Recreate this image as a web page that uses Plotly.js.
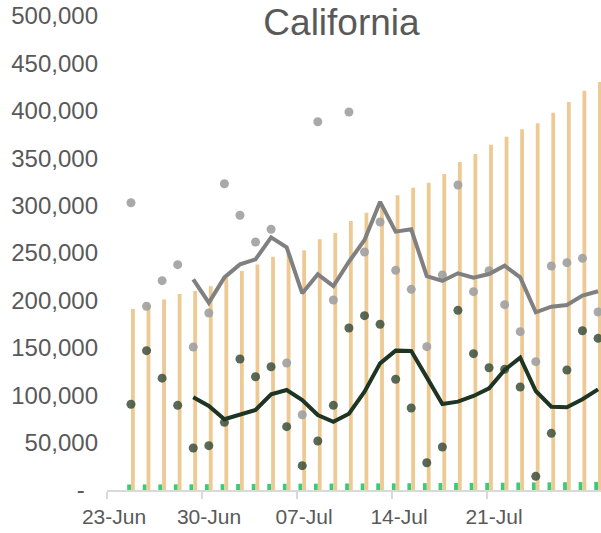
<!DOCTYPE html>
<html>
<head>
<meta charset="utf-8">
<script src="https://cdn.plot.ly/plotly-3.0.1.min.js"></script>
<style>html,body{margin:0;padding:0;background:#fff;}#chart{width:601px;height:533px;}</style>
</head>
<body>
<div id="chart"></div>
<script>
// Daily categories (data axis)
const days = ['2020-06-24','2020-06-25','2020-06-26','2020-06-27','2020-06-28','2020-06-29','2020-06-30',
  '2020-07-01','2020-07-02','2020-07-03','2020-07-04','2020-07-05','2020-07-06','2020-07-07',
  '2020-07-08','2020-07-09','2020-07-10','2020-07-11','2020-07-12','2020-07-13','2020-07-14',
  '2020-07-15','2020-07-16','2020-07-17','2020-07-18','2020-07-19','2020-07-20','2020-07-21',
  '2020-07-22','2020-07-23','2020-07-24'];

const greenBars = [5800,5900,5900,6000,6000,6100,6200,6300,6400,6500,6600,6700,6700,6800,6900,6900,
  7000,7000,7100,7200,7300,7400,7500,7600,7700,7900,8000,8100,8200,8400,8500];

const orangeBars = [190900,195000,201000,206700,210000,215000,223600,231000,238000,246000,249500,
  252800,264400,271000,283800,292500,300000,310800,318900,324200,333300,346000,354400,364300,
  372700,380500,386800,398000,409300,421200,430400];

const greyDots = [303000,193800,220800,237700,150800,186700,323000,289800,261600,275000,134000,
  79400,388500,200400,398700,251000,282700,231700,211700,151200,226800,321700,209200,231400,
  195500,167000,135400,236300,239800,244400,187800];

const darkDots = [90400,147000,118000,89300,44300,46800,71400,138200,119500,130000,66800,25700,
  51700,89300,170900,183900,174800,116800,86500,28800,45400,189500,143800,129000,127300,108600,
  14400,59800,126600,168000,160000];

const greyLine = [null,null,null,null,222200,197600,224300,238000,243300,266500,256000,207500,
  227500,215200,240800,263700,304000,272500,275000,225700,220500,228600,224000,227800,236600,
  224300,187400,193400,195100,205000,209600];

const darkLine = [null,null,null,null,97800,88600,74600,79100,84400,100900,105500,94900,79100,
  72000,80500,103700,133600,147000,146600,118800,90700,93200,99200,107300,126600,139600,104400,
  87900,87200,95700,106200];

// Axis tick labels
const xTickDates = ['2020-06-23','2020-06-30','2020-07-07','2020-07-14','2020-07-21'];
const yTickVals = [0,50000,100000,150000,200000,250000,300000,350000,400000,450000,500000];
const yTickText = yTickVals.map(v => v === 0 ? '-\u00a0\u00a0' : v.toLocaleString('en-US'));

const FONT = 'Arial, "Liberation Sans", sans-serif';
const TXT = '#595959';

const traces = [
  {type:'bar', x:days, y:greenBars, marker:{color:'#3CC978'}, hoverinfo:'skip'},
  {type:'bar', x:days, y:orangeBars, marker:{color:'#EDC994'}, hoverinfo:'skip'},
  {type:'scatter', mode:'markers', x:days, y:greyDots, marker:{color:'rgba(160,160,160,0.9)', size:9}},
  {type:'scatter', mode:'markers', x:days, y:darkDots, marker:{color:'rgba(60,80,60,0.85)', size:9}},
  {type:'scatter', mode:'lines', x:days, y:greyLine, line:{color:'#808080', width:4}},
  {type:'scatter', mode:'lines', x:days, y:darkLine, line:{color:'#1E3524', width:4}},
  // carrier for the date tick axis (draws nothing)
  {type:'scatter', mode:'markers', xaxis:'x2', x:xTickDates, y:xTickDates.map(() => null),
   marker:{opacity:0}, hoverinfo:'skip'}
];

const layout = {
  width:601, height:533,
  margin:{l:107, r:0, t:16, b:43},
  paper_bgcolor:'#fff', plot_bgcolor:'#fff',
  showlegend:false,
  barmode:'group', bargap:0.51, bargroupgap:0,
  font:{family:FONT, color:TXT},
  title:{text:'California', font:{family:FONT, size:37, color:TXT},
         xref:'paper', x:0.4747, xanchor:'center',
         yref:'container', y:1-22.5/533, yanchor:'middle'},
  xaxis:{type:'category', range:[-1.541, 30.19], visible:false, fixedrange:true},
  xaxis2:{type:'date', overlaying:'x', anchor:'y', side:'bottom',
          range:['2020-06-23 00:00','2020-07-29 09:37'],
          tickmode:'array', tickvals:xTickDates, tickformat:'%d-%b',
          ticks:'outside', ticklen:7, tickwidth:1.5, tickcolor:'#d9d9d9',
          showline:true, linecolor:'#d9d9d9', linewidth:1.5,
          showgrid:false, zeroline:false, ticklabelshift:7,
          tickfont:{family:FONT, size:21, color:TXT}},
  yaxis:{range:[0,500000], tickmode:'array', tickvals:yTickVals, ticktext:yTickText,
         showgrid:false, zeroline:false, showline:false, ticks:'',
         ticklabelstandoff:8,
         tickfont:{family:FONT, size:24, color:TXT}}
};

Plotly.newPlot('chart', traces, layout, {staticPlot:true, displayModeBar:false});
</script>
</body>
</html>
